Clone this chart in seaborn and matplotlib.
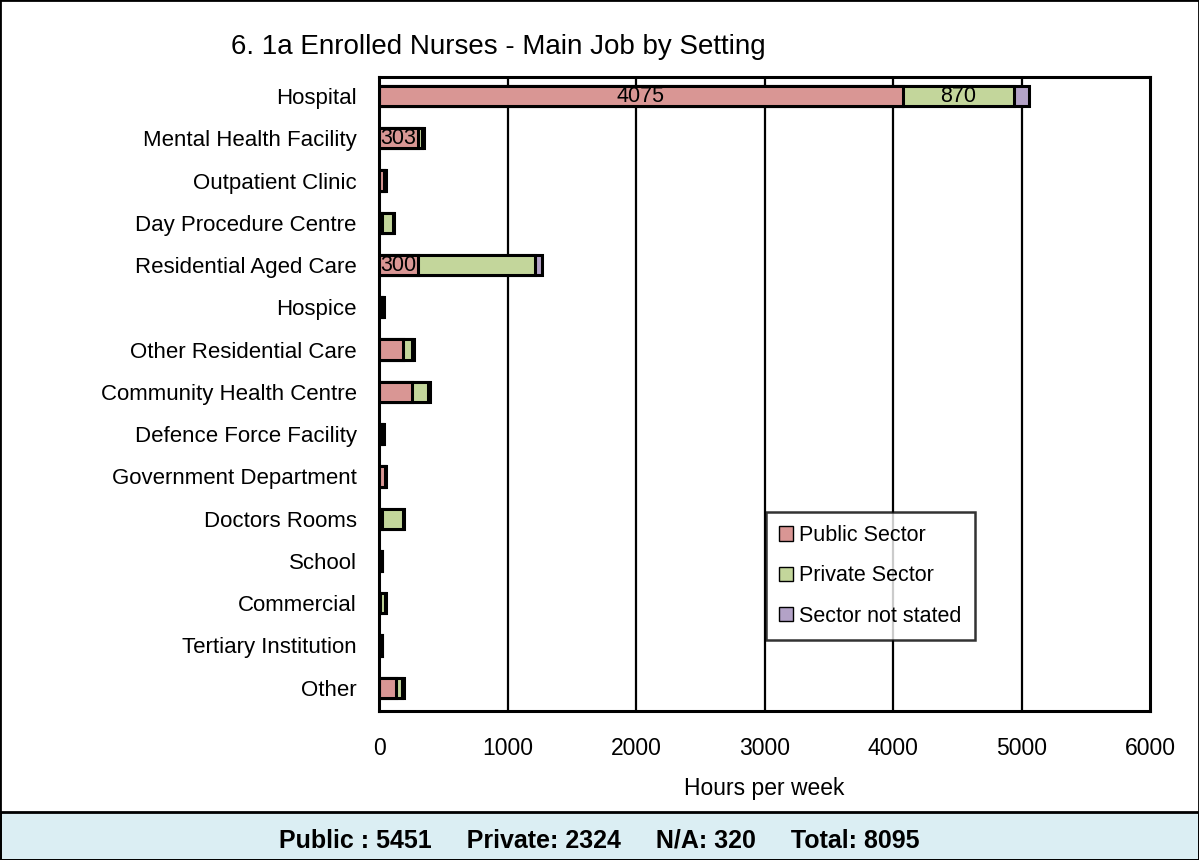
import matplotlib
matplotlib.use("Agg")
import matplotlib.pyplot as plt
import seaborn as sns
import pandas as pd
import numpy as np
from matplotlib.patches import Rectangle, Patch

sns.set_theme(style="white")
plt.rcParams['font.family'] = ['Liberation Sans', 'DejaVu Sans']
plt.rcParams['text.color'] = 'black'
plt.rcParams['axes.labelcolor'] = 'black'
plt.rcParams['xtick.color'] = 'black'
plt.rcParams['ytick.color'] = 'black'

categories = ["Hospital", "Mental Health Facility", "Outpatient Clinic", "Day Procedure Centre",
              "Residential Aged Care", "Hospice", "Other Residential Care", "Community Health Centre",
              "Defence Force Facility", "Government Department", "Doctors Rooms", "School",
              "Commercial", "Tertiary Institution", "Other"]
public = [4075, 303, 40, 20, 300, 20, 190, 260, 25, 45, 20, 10, 10, 10, 130]
private = [870, 35, 10, 90, 915, 15, 70, 125, 10, 5, 165, 10, 40, 10, 50]
not_stated = [110, 10, 5, 10, 55, 5, 10, 10, 5, 5, 10, 5, 5, 5, 15]
xticks = [0, 1000, 2000, 3000, 4000, 5000, 6000]
title = "6. 1a Enrolled Nurses - Main Job by Setting"
footer = "Public : 5451     Private: 2324     N/A: 320     Total: 8095"

c_pub, c_priv, c_na = "#D99694", "#C3D69B", "#B3A2C7"

df = pd.DataFrame({"cat": categories, "pub": public, "priv": private, "na": not_stated})
df["c2"] = df["pub"] + df["priv"]
df["c3"] = df["c2"] + df["na"]

fig = plt.figure(figsize=(11.99, 8.6), dpi=100)
ax = fig.add_axes([379/1199, 1 - 711/860, (1150-379)/1199, (711-77)/860])

for col, color in [("c3", c_na), ("c2", c_priv), ("pub", c_pub)]:
    sns.barplot(data=df, y="cat", x=col, orient="h", color=color, edgecolor="black",
                linewidth=2.2, width=0.48, ax=ax, order=categories, saturation=1)

ax.set_xlim(0, 6000)
ax.set_ylim(14.55, -0.45)
ax.set_xticks(xticks)
ax.set_xticklabels([str(t) for t in xticks], fontsize=16.5)
ax.tick_params(axis='x', pad=19, length=0)
ax.tick_params(axis='y', pad=16, length=0, labelsize=16)
ax.set_ylabel("")
ax.set_xlabel("Hours per week", fontsize=16.5, labelpad=12)
for t in xticks[1:-1]:
    ax.axvline(t, color="black", lw=1.6, zorder=0)
for s in ax.spines.values():
    s.set_color("black")
    s.set_linewidth(2.2)

# value labels
labels = [(0, public[0] / 2, "4075"), (0, public[0] + private[0] / 2, "870"),
          (1, public[1] / 2, "303"), (4, public[4] / 2, "300")]
for i, xpos, txt in labels:
    ax.text(xpos, i, txt, ha="center", va="center", fontsize=15.5, color="black")

handles = [Patch(facecolor=c_pub, edgecolor="black", label="Public Sector"),
           Patch(facecolor=c_priv, edgecolor="black", label="Private Sector"),
           Patch(facecolor=c_na, edgecolor="black", label="Sector not stated")]
leg = ax.legend(handles=handles, loc="upper left",
                bbox_to_anchor=((766-379)/(1150-379), 1 - (512-77)/(711-77)),
                fontsize=15.5, frameon=True, fancybox=False, handlelength=0.65, handleheight=0.65,
                handletextpad=0.3, labelspacing=0.9, borderpad=0.6, borderaxespad=0)
leg.get_frame().set_edgecolor("black")
leg.get_frame().set_linewidth(1.8)

fig.text(498/1199, 1 - 47/860, title, ha="center", va="center", fontsize=20)

fig.patches.append(Rectangle((0, 0), 1, (860-812)/860, transform=fig.transFigure,
                             facecolor="#DBEEF3", edgecolor="black", linewidth=2, zorder=0))
fig.patches.append(Rectangle((0, 0), 1, 1, transform=fig.transFigure,
                             facecolor="none", edgecolor="black", linewidth=2, zorder=5))
fig.text(0.5, 1 - 840/860, footer, ha="center", va="center", fontsize=18, fontweight="bold")

fig.savefig("out.png", dpi=100)
